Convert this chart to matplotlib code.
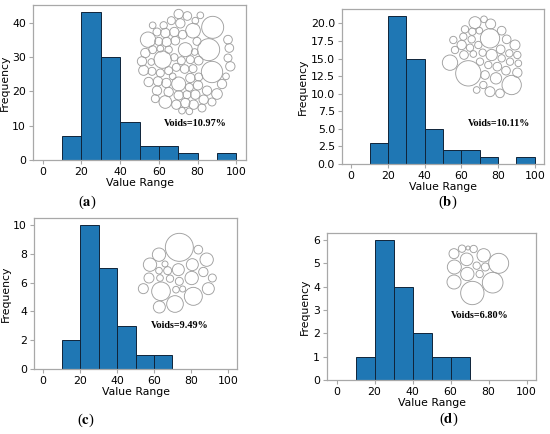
import numpy as np
import matplotlib
matplotlib.use('Agg')
import matplotlib.pyplot as plt
from matplotlib.patches import Circle
from matplotlib.ticker import MultipleLocator

plt.rcParams['mathtext.fontset'] = 'stix'

# histogram bins (shared by all panels)
bin_edges = [0, 10, 20, 30, 40, 50, 60, 70, 80, 90]
bin_width = 10

# counts per bin
counts_a = [0, 7, 43, 30, 11, 4, 4, 2, 0, 2]
counts_b = [0, 3, 21, 15, 5, 2, 2, 1, 0, 1]
counts_c = [0, 2, 10, 7, 3, 1, 1, 0, 0, 0]
counts_d = [0, 1, 6, 4, 2, 1, 1, 0, 0, 0]

voids_a = 'Voids=10.97%'
voids_b = 'Voids=10.11%'
voids_c = 'Voids=9.49%'
voids_d = 'Voids=6.80%'

ytick_step = [10, 2.5, 2, 1]
panel_names = ['a', 'b', 'c', 'd']

# packed circles of each inset: (x, y, r) in inset units
circles_a = [
    (140, 18, 14), (166, 24, 13), (118, 38, 12), (145, 46, 14), (95, 52, 11),
    (190, 38, 10), (205, 22, 10), (62, 52, 10), (183, 68, 22), (242, 58, 33),
    (48, 95, 23), (75, 72, 12), (100, 75, 14), (127, 72, 14), (152, 80, 13),
    (80, 100, 12), (104, 102, 14), (130, 98, 13), (160, 125, 21), (195, 100, 12),
    (188, 132, 10), (288, 95, 13), (292, 120, 13), (230, 125, 33), (240, 192, 32),
    (288, 150, 12), (295, 175, 14), (282, 205, 10), (40, 135, 14), (92, 155, 26),
    (62, 125, 12), (30, 160, 14), (58, 162, 10), (35, 187, 15), (127, 148, 11),
    (110, 125, 11), (85, 122, 10), (148, 158, 12), (175, 155, 12), (200, 158, 13),
    (60, 190, 12), (85, 195, 12), (110, 188, 12), (133, 178, 12), (158, 183, 13),
    (183, 182, 12), (200, 207, 12), (140, 228, 21), (122, 205, 10), (175, 210, 14),
    (50, 222, 14), (78, 220, 14), (103, 225, 14), (75, 248, 14), (110, 252, 14),
    (172, 238, 12), (198, 232, 14), (225, 248, 14), (270, 228, 14), (255, 258, 16),
    (100, 282, 19), (70, 272, 12), (140, 262, 14), (165, 260, 12), (190, 260, 14),
    (215, 275, 14), (240, 282, 12), (133, 290, 14), (160, 285, 14), (185, 290, 14),
    (150, 308, 10), (172, 310, 10), (210, 300, 12),
]
circles_b = [
    (105, 38, 18), (132, 28, 10), (152, 42, 15), (150, 85, 29), (85, 190, 38),
    (30, 158, 23), (215, 225, 29), (185, 62, 13), (75, 58, 11), (70, 80, 11),
    (97, 65, 11), (118, 62, 10), (40, 90, 11), (65, 105, 14), (95, 88, 11),
    (115, 105, 11), (90, 113, 11), (200, 88, 13), (225, 105, 15), (45, 120, 11),
    (72, 135, 13), (100, 132, 10), (128, 128, 11), (155, 135, 17), (182, 118, 13),
    (208, 130, 11), (232, 135, 11), (120, 155, 11), (185, 145, 11), (210, 155, 11),
    (235, 160, 10), (145, 165, 11), (172, 170, 13), (198, 182, 13), (232, 188, 14),
    (135, 195, 13), (168, 205, 17), (130, 225, 11), (150, 245, 15), (180, 250, 13),
    (110, 240, 10),
]
circles_c = [
    (133, 58, 42), (72, 80, 20), (190, 65, 13), (215, 95, 20), (45, 110, 20),
    (90, 108, 9), (72, 128, 10), (98, 128, 12), (130, 125, 18), (172, 110, 18),
    (205, 132, 14), (232, 150, 12), (42, 150, 15), (75, 150, 10), (105, 152, 11),
    (133, 160, 12), (170, 150, 20), (25, 182, 15), (78, 190, 28), (123, 185, 10),
    (143, 183, 9), (175, 205, 27), (220, 182, 18), (73, 237, 18), (120, 228, 25),
]
circles_d = [
    (42, 56, 15), (66, 41, 11), (84, 39, 6), (101, 42, 11), (131, 61, 20),
    (176, 85, 30), (80, 73, 19), (43, 96, 21), (110, 92, 11), (136, 96, 12),
    (119, 117, 11), (82, 117, 20), (42, 141, 21), (158, 143, 31), (97, 174, 35),
]

W, H = 550, 434
fig = plt.figure(figsize=(5.5, 4.34), dpi=100)

def px_box(left, top, right, bottom):
    return [left / W, 1 - bottom / H, (right - left) / W, (bottom - top) / H]

# main axes boxes (pixels: left, top, right, bottom)
axes_boxes = [(33, 5, 246, 160), (342, 9, 544, 164),
              (34, 218, 237, 369), (327, 233, 536, 380)]
# inset boxes (pixels: left, top, width, height), units are 3 per pixel
inset_boxes = [(132, 8, 110, 105), (440, 10, 100, 90),
               (135, 228, 85, 90), (440, 235, 80, 75)]
voids_xy = [(195, 123), (499, 123), (180, 325), (480, 315)]
label_xy = [(87, 202), (448, 202), (86, 420), (449, 419)]

all_counts = [counts_a, counts_b, counts_c, counts_d]
all_voids = [voids_a, voids_b, voids_c, voids_d]
all_circles = [circles_a, circles_b, circles_c, circles_d]

spine_col = '#a8a8a8'

for i in range(4):
    ax = fig.add_axes(px_box(*axes_boxes[i]))
    ax.bar(bin_edges, all_counts[i], width=bin_width, align='edge',
           color='#1f77b4', edgecolor='#10243a', linewidth=0.7)
    ax.set_xticks([0, 20, 40, 60, 80, 100])
    ax.yaxis.set_major_locator(MultipleLocator(ytick_step[i]))
    ax.set_xlabel('Value Range', fontsize=7.8, labelpad=1)
    ax.set_ylabel('Frequency', fontsize=7.8, labelpad=2)
    ax.tick_params(labelsize=7.8, color=spine_col, length=3, width=0.8, pad=2)
    for s in ax.spines.values():
        s.set_color(spine_col)
        s.set_linewidth(0.9)

    # circle packing inset
    x0, y0, w, h = inset_boxes[i]
    ins = fig.add_axes([x0 / W, 1 - (y0 + h) / H, w / W, h / H])
    ins.set_xlim(0, 3 * w)
    ins.set_ylim(3 * h, 0)
    ins.axis('off')
    for cx, cy, r in all_circles[i]:
        ins.add_patch(Circle((cx, cy), r, facecolor='none', edgecolor='#a0a0a0',
                             linewidth=0.65, clip_on=False))

    vx, vy = voids_xy[i]
    fig.text(vx / W, 1 - vy / H, all_voids[i], ha='center', va='center',
             fontsize=7.3, fontweight='bold', family='Liberation Serif')
    lx, ly = label_xy[i]
    fig.text(lx / W, 1 - ly / H, '($\\mathbf{' + panel_names[i] + '}$)',
             ha='center', va='center', fontsize=10.5, family='Liberation Serif')

fig.savefig('out.png', dpi=100)
